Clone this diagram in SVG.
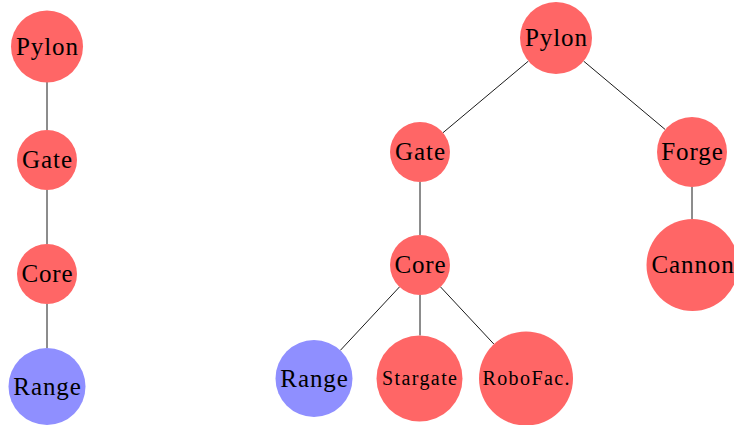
<svg xmlns="http://www.w3.org/2000/svg" width="734" height="425" viewBox="0 0 734 425">
<style>
.red{fill:#ff6666}
.blue{fill:#8f8fff}
.lbl{font-family:"Liberation Serif","Times New Roman",serif;font-size:25px;fill:#000;text-anchor:middle;letter-spacing:0.9px}
.sm{font-family:"Liberation Serif","Times New Roman",serif;font-size:20px;fill:#000;text-anchor:middle;letter-spacing:1.4px}
.edge{stroke:#000;stroke-width:0.9;fill:none}
</style>
<rect width="734" height="425" fill="#fff"/>
<g id="connectors">
<line class="edge" x1="47" y1="82" x2="47" y2="130"/>
<line class="edge" x1="47" y1="190" x2="47" y2="244"/>
<line class="edge" x1="47" y1="304" x2="47" y2="348"/>
<line class="edge" x1="528.4" y1="61.1" x2="443" y2="132.7"/>
<line class="edge" x1="583.6" y1="61.1" x2="665.2" y2="129.5"/>
<line class="edge" x1="420" y1="182" x2="420" y2="235"/>
<line class="edge" x1="692" y1="187" x2="692" y2="219"/>
<line class="edge" x1="399.5" y1="286.9" x2="340.3" y2="350.4"/>
<line class="edge" x1="420" y1="295" x2="420" y2="335.5"/>
<line class="edge" x1="440.5" y1="286.9" x2="493.9" y2="344.1"/>
</g>
<g id="l-pylon"><circle class="red" cx="47" cy="46.5" r="36"/><text class="lbl" x="47.5" y="54.5">Pylon</text></g>
<g id="l-gate"><circle class="red" cx="47" cy="160" r="30"/><text class="lbl" x="47.5" y="168">Gate</text></g>
<g id="l-core"><circle class="red" cx="47" cy="274" r="30"/><text class="lbl" x="47.5" y="282">Core</text></g>
<g id="l-range"><circle class="blue" cx="47" cy="386.5" r="38.5"/><text class="lbl" x="47.5" y="394.5">Range</text></g>
<g id="r-pylon"><circle class="red" cx="556" cy="38" r="36"/><text class="lbl" x="556.5" y="46">Pylon</text></g>
<g id="r-gate"><circle class="red" cx="420" cy="152" r="30"/><text class="lbl" x="420.5" y="160">Gate</text></g>
<g id="r-forge"><circle class="red" cx="692" cy="152" r="35"/><text class="lbl" x="692.5" y="160">Forge</text></g>
<g id="r-core"><circle class="red" cx="420" cy="265" r="30"/><text class="lbl" x="420.5" y="273">Core</text></g>
<g id="r-cannon"><circle class="red" cx="692.5" cy="265" r="46"/><text class="lbl" x="693" y="273">Cannon</text></g>
<g id="r-range"><circle class="blue" cx="314" cy="378.5" r="38.5"/><text class="lbl" x="314.5" y="386.5">Range</text></g>
<g id="r-stargate"><circle class="red" cx="419.5" cy="378.5" r="43"/><text class="sm" x="420.2" y="385">Stargate</text></g>
<g id="r-robofac"><circle class="red" cx="526" cy="378.5" r="47"/><text class="sm" x="526.7" y="385">RoboFac.</text></g>
</svg>
